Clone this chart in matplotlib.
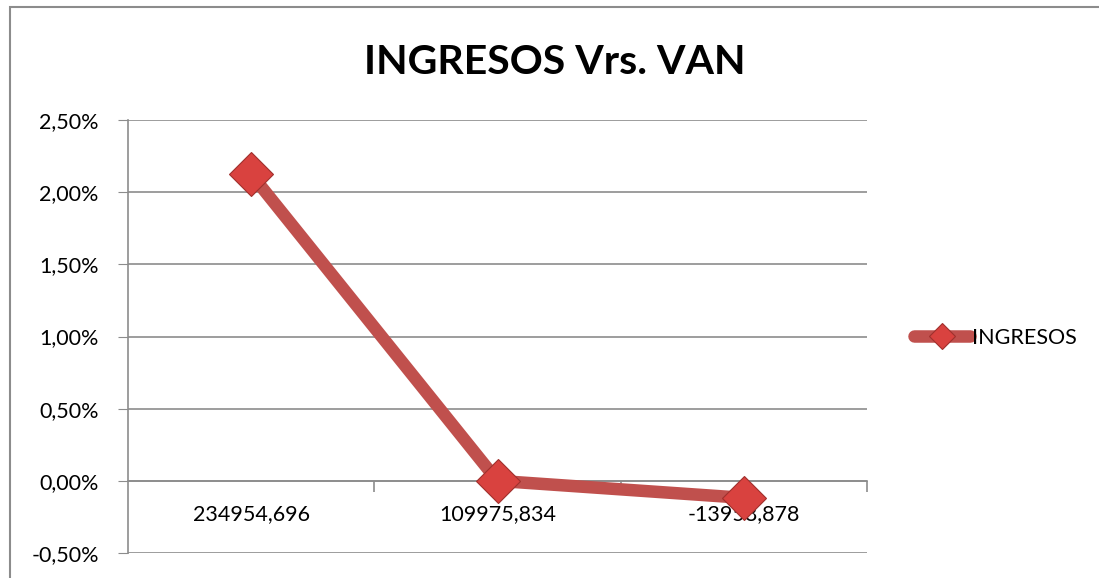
import matplotlib
matplotlib.use("Agg")
import matplotlib.pyplot as plt
import numpy as np
from matplotlib.ticker import FuncFormatter

# ── Data ──────────────────────────────────────────────────────────────────────
categories = ["234954,696", "109975,834", "-13958,878"]
ingresos   = [0.02125, 0.0, -0.00118]

plt.rcParams["font.family"] = ["Lato", "DejaVu Sans"]

line_color   = "#C0504D"
marker_fill  = "#D9423F"
marker_edge  = "#A0302D"
grid_color   = "#8C8C8C"

fig = plt.figure(figsize=(10.99, 5.78), dpi=100)
ax = fig.add_axes([128 / 1099, 1 - 553 / 578, (867 - 128) / 1099, (553 - 120) / 578])

x = np.arange(len(categories))
ax.plot(x, ingresos, color=line_color, linewidth=9, solid_capstyle="round",
        marker="D", markersize=22, markerfacecolor=marker_fill,
        markeredgecolor=marker_edge, markeredgewidth=0.8, label="INGRESOS",
        zorder=3)

# ── Axes ──────────────────────────────────────────────────────────────────────
ax.set_xlim(-0.5, len(categories) - 0.5)
ax.set_ylim(-0.005, 0.025)
ax.set_yticks(np.arange(-0.005, 0.0251, 0.005))
ax.yaxis.set_major_formatter(FuncFormatter(lambda v, p: f"{v * 100:.2f}%".replace(".", ",")))
ax.yaxis.grid(True, color=grid_color, linewidth=1.2)
ax.set_axisbelow(True)
ax.tick_params(axis="y", length=7, color=grid_color, labelsize=15.5, pad=14)

ax.spines["top"].set_visible(False)
ax.spines["right"].set_visible(False)
ax.spines["left"].set_color(grid_color)
ax.spines["left"].set_linewidth(1.2)
ax.spines["bottom"].set_position(("data", 0))
ax.spines["bottom"].set_color(grid_color)
ax.spines["bottom"].set_linewidth(1.2)

ax.set_xticks(x)
ax.set_xticklabels(categories)
ax.set_xticks(np.arange(0.5, len(categories), 1.0), minor=True)
ax.tick_params(axis="x", which="major", length=0, labelsize=15.5, pad=17)
ax.tick_params(axis="x", which="minor", length=8, color=grid_color, width=1.2)

# ── Title / legend ────────────────────────────────────────────────────────────
fig.text(555 / 1099, 1 - 62 / 578, "INGRESOS Vrs. VAN", ha="center", va="center",
         fontsize=29.5, fontweight="bold")

fig.legend(loc="center left", bbox_to_anchor=(895 / 1099, 1 - 338 / 578),
           frameon=False, fontsize=15.5, handlelength=2.6, handletextpad=0.1,
           markerscale=0.6)

# chart frame
fig.patches.append(plt.Rectangle((10 / 1099, -0.05), 1.2, 1 - 7 / 578 + 0.05,
                                 transform=fig.transFigure, fill=False,
                                 edgecolor="#8C8C8C", linewidth=1.5))

fig.savefig("out.png", dpi=100)
